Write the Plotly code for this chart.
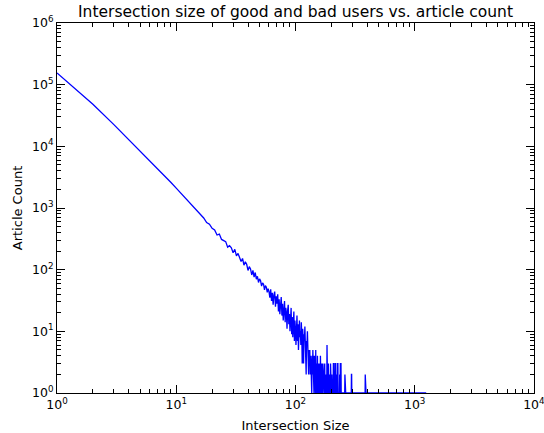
import numpy as np
import plotly.graph_objects as go

# Article counts for intersection sizes 1..130
head_counts = [
    155000, 48000, 22500, 12900, 8400, 5900, 4350, 3350, 2620, 2100,
    1720, 1430, 1200, 1020, 900, 760, 690, 580, 545, 468,
    440, 365, 378, 309, 296, 285, 232, 245, 226, 188,
    214, 168, 183, 160, 136, 152, 118, 134, 122, 97,
    112, 103, 82, 97, 76, 90, 70, 78, 62, 71,
    66, 54, 61, 58, 47, 55, 52, 43, 49, 44,
    35, 48, 31, 42, 27, 39, 44, 25, 37, 28,
    40, 21, 33, 19, 30, 36, 18, 28, 15, 26,
    31, 14, 24, 20, 11, 22, 27, 13, 19, 10,
    18, 24, 9, 17, 8, 16, 21, 7, 15, 11,
    6, 14, 18, 7, 13, 5, 12, 15, 8, 10,
    6, 14, 9, 3, 11, 8, 3, 9, 7, 12,
    5, 8, 2, 7, 6, 10, 4, 6, 2, 5,
]

# Sparse tail: intersection sizes above 130 with non-zero article counts
tail_sizes = [
    131, 132, 133, 134, 135, 136, 138, 139, 140, 141, 142, 144, 145, 146, 147, 148,
    150, 151, 152, 153, 155, 156, 158, 159, 160, 162, 163, 165, 166, 168, 170, 171,
    173, 175, 176, 178, 180, 182, 184, 185, 187, 189, 190, 193, 195, 197, 200, 202,
    205, 208, 209, 210, 212, 214, 216, 217, 218, 220, 223, 226, 227, 229, 232, 235,
    238, 239, 240, 241, 244, 248, 252, 256, 260, 265, 271, 278, 285, 295, 296, 305,
    320, 340, 385, 412, 455, 530, 610, 742, 1250,
]
tail_counts = [
    3, 5, 2, 4, 3, 1, 4, 2, 5, 1, 3, 4, 2, 3, 1, 5,
    2, 3, 1, 4, 2, 3, 1, 3, 2, 4, 1, 2, 3, 1, 3, 2,
    1, 2, 3, 1, 2, 1, 6, 1, 2, 3, 1, 2, 1, 3, 1, 2,
    1, 3, 3, 3, 1, 2, 3, 3, 3, 1, 2, 3, 3, 1, 1, 2,
    3, 3, 3, 3, 1, 1, 1, 1, 2, 1, 1, 1, 1, 2, 2, 1,
    1, 1, 2, 1, 1, 1, 1, 1, 1,
]

max_size = tail_sizes[-1]
sizes = np.arange(1, max_size + 1)
counts = np.zeros(max_size)
counts[:len(head_counts)] = head_counts
counts[np.array(tail_sizes) - 1] = tail_counts
# zero counts are clipped to the bottom of the log axis
plot_counts = np.where(counts > 0, counts, 1.0)

x_tickvals = [1, 10, 100, 1000, 10000]
x_ticktext = ["10<sup>0</sup>", "10<sup>1</sup>", "10<sup>2</sup>", "10<sup>3</sup>", "10<sup>4</sup>"]
y_tickvals = [1, 10, 100, 1000, 10000, 100000, 1000000]
y_ticktext = ["10<sup>0</sup>", "10<sup>1</sup>", "10<sup>2</sup>", "10<sup>3</sup>",
              "10<sup>4</sup>", "10<sup>5</sup>", "10<sup>6</sup>"]

fig = go.Figure()
fig.add_trace(go.Scatter(x=sizes, y=plot_counts, mode="lines",
                         line=dict(color="#0000ff", width=1.3), showlegend=False))

axis_common = dict(
    type="log", showgrid=False, zeroline=False, showline=True, linecolor="black",
    linewidth=1, mirror="allticks", ticks="inside", ticklen=8, tickcolor="black",
    ticklabeloverflow="allow", automargin=False,
    tickfont=dict(family="DejaVu Sans", size=12.5, color="black"),
    minor=dict(ticks="inside", ticklen=4, tickcolor="black", dtick="D1", showgrid=False),
)

fig.update_layout(
    width=544, height=433,
    margin=dict(l=57, r=10, t=23, b=40),
    paper_bgcolor="white", plot_bgcolor="white",
    font=dict(family="DejaVu Sans", color="black"),
    title=dict(text="Intersection size of good and bad users vs. article count",
               x=0.5, xref="paper", xanchor="center",
               y=1 - 12 / 433, yref="container", yanchor="middle",
               font=dict(size=15.5, family="DejaVu Sans", color="black")),
    xaxis=dict(range=[0, 4.001], tickvals=x_tickvals, ticktext=x_ticktext,
               title=dict(text="Intersection Size", standoff=9,
                          font=dict(size=13, family="DejaVu Sans", color="black")),
               **axis_common),
    yaxis=dict(range=[0, 6], tickvals=y_tickvals, ticktext=y_ticktext,
               title=dict(text="Article Count", standoff=6,
                          font=dict(size=13, family="DejaVu Sans", color="black")),
               **axis_common),
)

fig.write_html("out.html")
